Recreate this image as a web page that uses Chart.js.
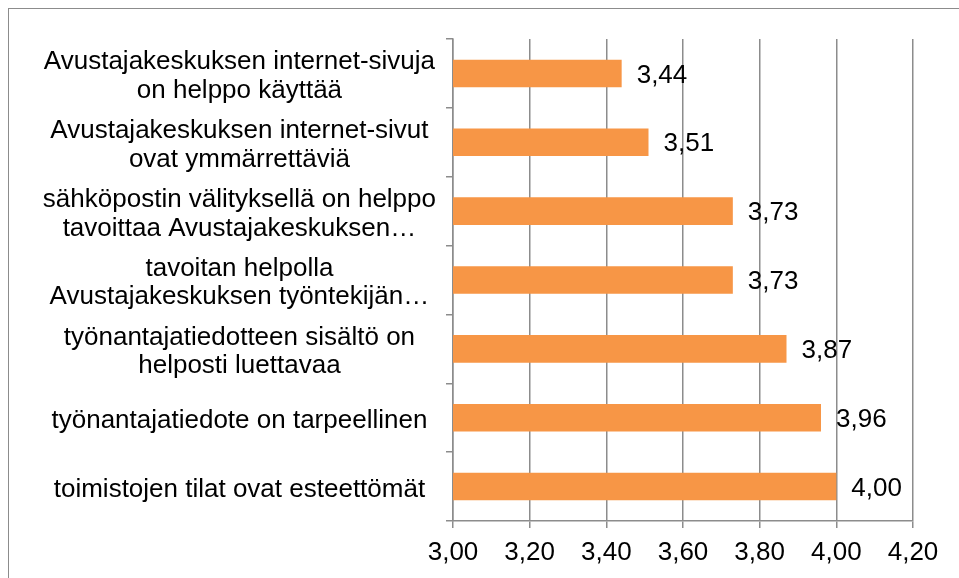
<!DOCTYPE html>
<html>
<head>
<meta charset="utf-8">
<script src="https://cdn.jsdelivr.net/npm/chart.js@4"></script>
<style>
  html, body { margin: 0; padding: 0; background: #fff; }
  #frame {
    position: absolute; left: 8px; top: 8px;
    width: 1000px; height: 620px;
    border: 1.5px solid #8c8c8c;
  }
  #wrap { position: absolute; left: 0; top: 0; width: 959px; height: 578px; }
</style>
</head>
<body>
<div id="frame"></div>
<div id="wrap"><canvas id="barChart"></canvas></div>
<script>
const categories = [
  ["Avustajakeskuksen internet-sivuja", "on helppo käyttää"],
  ["Avustajakeskuksen internet-sivut", "ovat ymmärrettäviä"],
  ["sähköpostin välityksellä on helppo", "tavoittaa Avustajakeskuksen…"],
  ["tavoitan helpolla", "Avustajakeskuksen työntekijän…"],
  ["työnantajatiedotteen sisältö on", "helposti luettavaa"],
  "työnantajatiedote on tarpeellinen",
  "toimistojen tilat ovat esteettömät"
];
const averages = [3.44, 3.51, 3.73, 3.73, 3.87, 3.96, 4.00];
const xMin = 3.0;
const xMax = 4.2;
const xStep = 0.2;

const fontFamily = "'Liberation Sans', Arial, sans-serif";
const gridColor = "#8c8c8c";

function fiNumber(v) {
  return Number(v).toFixed(2).replace(".", ",");
}

// value labels to the right of each bar
const valueLabels = {
  id: "valueLabels",
  afterDatasetsDraw(chart) {
    const ctx = chart.ctx;
    const meta = chart.getDatasetMeta(0);
    ctx.save();
    ctx.font = "26px " + fontFamily;
    ctx.fillStyle = "#000";
    ctx.textAlign = "left";
    ctx.textBaseline = "middle";
    meta.data.forEach((bar, i) => {
      ctx.fillText(fiNumber(chart.data.datasets[0].data[i]), bar.x + 15, bar.y + 2);
    });
    ctx.restore();
  }
};

const ctx = document.getElementById("barChart").getContext("2d");
Chart.defaults.font.family = fontFamily;
Chart.defaults.color = "#000";

const myBarChart = new Chart(ctx, {
  type: "bar",
  data: {
    labels: categories,
    datasets: [
      {
        data: averages,
        backgroundColor: "#f79646",
        borderWidth: 0,
        barPercentage: 0.4,
        categoryPercentage: 1,
      },
    ],
  },
  options: {
    indexAxis: "y",
    responsive: true,
    maintainAspectRatio: false,
    animation: false,
    layout: {
      padding: { top: 39, right: 46, left: 0, bottom: 0 },
    },
    plugins: {
      legend: { display: false },
      tooltip: { enabled: false },
    },
    scales: {
      x: {
        min: xMin,
        max: xMax,
        afterFit: (scale) => { scale.height = 57; },
        ticks: {
          stepSize: xStep,
          padding: 9,
          color: "#000",
          font: { size: 26 },
          callback: (v) => fiNumber(v),
        },
        grid: {
          color: gridColor,
          lineWidth: 1.5,
          tickLength: 7,
        },
        border: { color: gridColor, width: 1.5 },
      },
      y: {
        afterFit: (scale) => { scale.width = 453; },
        ticks: {
          crossAlign: "center",
          padding: 10,
          labelOffset: 3,
          color: "#000",
          font: { size: 26, lineHeight: 1.1 },
        },
        grid: {
          offset: true,
          drawOnChartArea: false,
          color: gridColor,
          lineWidth: 1.5,
          tickLength: 7,
        },
        border: { color: gridColor, width: 1.5 },
      },
    },
  },
  plugins: [valueLabels],
});
</script>
</body>
</html>
